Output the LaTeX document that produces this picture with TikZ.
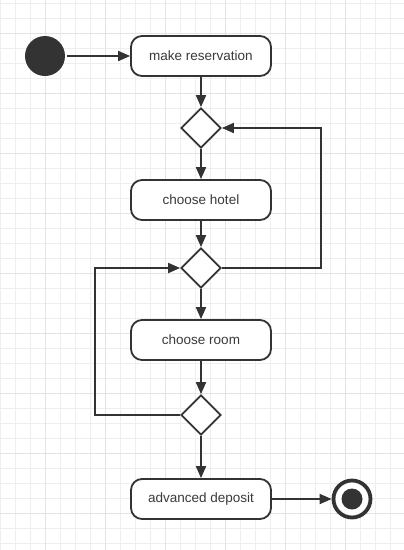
\documentclass[tikz,border=0pt]{standalone}
\usepackage{fontspec}
\setmainfont{Liberation Sans}
\usetikzlibrary{arrows.meta,shapes.geometric}
\definecolor{ink}{HTML}{333333}
\definecolor{txt}{HTML}{3A3A3A}
\definecolor{gridminor}{HTML}{EEEEEE}
\definecolor{gridmajor}{HTML}{E3E3E3}
\begin{document}
\begin{tikzpicture}[x=1pt,y=-1pt,
  act/.style={draw=ink, line width=1.8pt, rounded corners=11pt, minimum width=140pt, minimum height=40pt, inner sep=0pt, fill=white, text=txt, font=\fontsize{13.5}{16}\selectfont},
  dec/.style={draw=ink, line width=1.8pt, diamond, minimum width=40pt, minimum height=40pt, inner sep=0pt, fill=white, sharp corners},
  flow/.style={draw=ink, line width=1.8pt, -{Triangle[length=12pt,width=10pt]}},
  gline/.style={line width=0.6pt, draw=gridminor},
  gmajor/.style={line width=0.6pt, draw=gridmajor}
]
\fill[white] (0,0) rectangle (404,550);
\useasboundingbox (0,0) rectangle (404,550);
\foreach \x in {0,15,...,405} \draw[gline] (\x,0) -- (\x,550);
\foreach \y in {3,18,...,550} \draw[gline] (0,\y) -- (404,\y);
\foreach \x in {45,105,...,405} \draw[gmajor] (\x,0) -- (\x,550);
\foreach \y in {33,93,...,550} \draw[gmajor] (0,\y) -- (404,\y);

\node[circle, fill=ink, minimum size=40pt, inner sep=0pt] (start) at (45,56) {};
\node[act] (mr) at (201,56) {make reservation};
\node[dec] (d1) at (201,128) {};
\node[act] (ch) at (201,200) {choose hotel};
\node[dec] (d2) at (201,268) {};
\node[act] (cr) at (201,340) {choose room};
\node[dec] (d3) at (201,415) {};
\node[act] (ad) at (201,499) {advanced deposit};
\node[circle, draw=ink, line width=3.8pt, minimum size=37pt, inner sep=0pt, fill=white] (end) at (352,499) {};
\node[circle, fill=ink, minimum size=21pt, inner sep=0pt] (endin) at (352,499) {};

\draw[flow] ([xshift=2pt]start.east) -- (mr.west);
\draw[flow] (mr.south) -- (d1.north);
\draw[flow] (d1.south) -- (ch.north);
\draw[flow] (ch.south) -- (d2.north);
\draw[flow] (d2.south) -- (cr.north);
\draw[flow] (cr.south) -- (d3.north);
\draw[flow] (d3.south) -- (ad.north);
\draw[flow] (ad.east) -- (end.west);
\draw[flow] (d2.east) -- (321,268) |- (d1.east);
\draw[flow] (d3.west) -- (95,415) |- (d2.west);
\end{tikzpicture}
\end{document}
